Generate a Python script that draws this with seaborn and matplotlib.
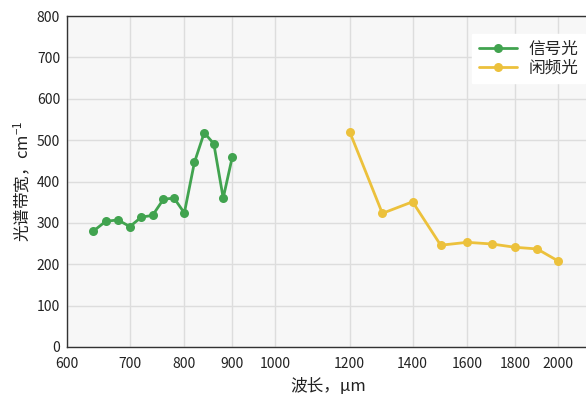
import matplotlib
matplotlib.use("Agg")
import matplotlib.pyplot as plt
import seaborn as sns
import pandas as pd
from matplotlib.ticker import FixedLocator, FixedFormatter, NullLocator

signal_wl = [640, 660, 680, 700, 720, 740, 760, 780, 800, 820, 840, 860, 880, 900]
signal_bw = [280, 304, 307, 291, 314, 318, 357, 360, 324, 446, 518, 491, 360, 460]
idler_wl = [1200, 1300, 1400, 1500, 1600, 1700, 1800, 1900, 2000]
idler_bw = [520, 323, 351, 246, 253, 249, 241, 237, 208]
series_names = ["信号光", "闲频光"]
x_ticks = [600, 700, 800, 900, 1000, 1200, 1400, 1600, 1800, 2000]
y_ticks = [0, 100, 200, 300, 400, 500, 600, 700, 800]

sns.set_theme(style="whitegrid")
plt.rcParams['font.family'] = ['Noto Sans CJK SC', 'DejaVu Sans']
plt.rcParams['axes.unicode_minus'] = False
plt.rcParams['mathtext.default'] = 'regular'

df = pd.concat([
    pd.DataFrame({"wl": signal_wl, "bw": signal_bw, "s": series_names[0]}),
    pd.DataFrame({"wl": idler_wl, "bw": idler_bw, "s": series_names[1]}),
])

fig = plt.figure(figsize=(5.86, 3.94), dpi=100)
ax = fig.add_axes([67/586, 47/394, 523/586, 331/394])
ax.set_facecolor("#f7f7f7")
palette = {series_names[0]: "#41a34f", series_names[1]: "#ecc13c"}
sns.lineplot(data=df, x="wl", y="bw", hue="s", palette=palette, marker="o",
             markersize=6.5, markeredgewidth=0, linewidth=2, ax=ax,
             units="s", estimator=None, sort=False)
ax.set_xscale("log")
ax.set_xlim(600, 2163)
ax.set_ylim(0, 800)
ax.xaxis.set_major_locator(FixedLocator(x_ticks))
ax.xaxis.set_major_formatter(FixedFormatter([str(t) for t in x_ticks]))
ax.xaxis.set_minor_locator(NullLocator())
ax.set_yticks(y_ticks)
ax.tick_params(axis="both", length=0, labelsize=10, colors="#222222")
ax.tick_params(axis="x", pad=7)
ax.tick_params(axis="y", pad=5)
ax.grid(True, color="#dddddd", linewidth=1)
for side in ["left", "bottom", "top"]:
    ax.spines[side].set_color("#333333")
    ax.spines[side].set_linewidth(1)
ax.spines["right"].set_visible(False)
ax.set_xlabel("波长，μm", fontsize=12, color="#222222", labelpad=5)
ax.set_ylabel("光谱带宽，cm$^{-1}$", fontsize=12, color="#222222", labelpad=3)
leg = ax.legend(loc="upper right", bbox_to_anchor=(0.99, 0.945), frameon=True,
                fontsize=12, handlelength=2.3, handletextpad=0.65,
                labelspacing=0.1, borderpad=0.4, borderaxespad=0)
leg.get_frame().set_facecolor("white")
leg.get_frame().set_edgecolor("white")
leg.get_frame().set_alpha(1)
leg.get_frame().set_boxstyle("square", pad=0)
fig.savefig("out.png", dpi=100)
